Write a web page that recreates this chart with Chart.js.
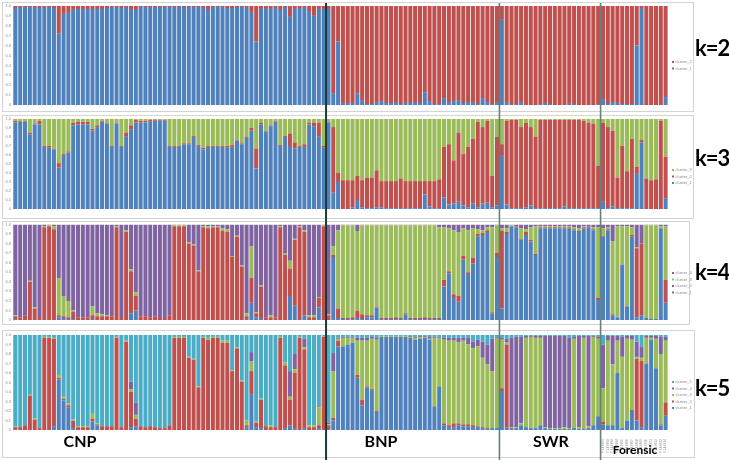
<!DOCTYPE html>
<html>
<head>
<meta charset="utf-8">
<script src="https://cdn.jsdelivr.net/npm/chart.js@4.4.1/dist/chart.umd.min.js"></script>
<style>
  html, body { margin: 0; padding: 0; background: #fff; }
  #fig { position: relative; width: 729px; height: 460px; overflow: hidden; font-family: Lato, "Liberation Sans", sans-serif; }
  .panel { position: absolute; left: 0; width: 729px; }
  .klabel { position: absolute; left: 695px; font-weight: 700; font-size: 22px; letter-spacing: -1px; line-height: 28px; color: #000; }
  .glabel { position: absolute; font-weight: 700; text-align: center; color: #000; }
</style>
</head>
<body>
<div id="fig">
  <div class="panel" style="top:0;height:113px"><canvas id="k2"></canvas></div>
  <div class="panel" style="top:113px;height:107px"><canvas id="k3"></canvas></div>
  <div class="panel" style="top:220px;height:108px"><canvas id="k4"></canvas></div>
  <div class="panel" style="top:328px;height:132px"><canvas id="k5"></canvas></div>

  <div class="klabel" style="top:34px">k=2</div>
  <div class="klabel" style="top:144px">k=3</div>
  <div class="klabel" style="top:258px">k=4</div>
  <div class="klabel" style="top:374px">k=5</div>

  <div class="glabel" style="left:40px;width:80px;top:432px;font-size:16px;line-height:18px">CNP</div>
  <div class="glabel" style="left:341px;width:80px;top:432px;font-size:16px;line-height:18px">BNP</div>
  <div class="glabel" style="left:511px;width:80px;top:432px;font-size:16px;line-height:18px">SWR</div>
  <div class="glabel" style="left:595px;width:80px;top:443px;font-size:12px;line-height:14px">Forensic</div>
</div>

<script>
// populations in plot order
const groupNames = ['CNP', 'BNP', 'SWR', 'Forensic'];
const groupSizes = [65, 36, 21, 14];

const clusterNames = ['cluster_1', 'cluster_2', 'cluster_3', 'cluster_4', 'cluster_5'];
const clusterColors = ['#4f81bd', '#c0504d', '#9bbb59', '#8064a2', '#4bacc6'];

// ---- K = 2 ----
const k2Cluster1 = [
  0.98,0.99,0.99,0.99,0.99,0.98,0.99,0.99,0.98,0.72,
  0.92,0.93,0.97,0.97,0.97,0.97,0.97,0.97,0.97,0.98,
  0.99,0.99,0.98,0.99,0.97,0.96,0.99,0.99,0.99,0.99,
  0.99,0.99,0.99,0.99,0.99,0.99,0.99,0.99,0.99,0.99,
  0.96,0.99,0.99,0.99,0.98,0.98,0.99,0.99,0.99,0.94,
  0.64,0.97,0.98,0.97,0.99,0.96,0.99,0.89,0.97,0.98,
  0.99,0.94,0.90,0.97,0.97,
  0.97,0.12,0.64,0.02,0.02,0.02,0.12,0.05,0.01,0.01,
  0.03,0.04,0.02,0.02,0.03,0.01,0.03,0.02,0.03,0.02,
  0.13,0.04,0.01,0.01,0.07,0.03,0.04,0.05,0.02,0.03,
  0.03,0.01,0.07,0.03,0.01,0.03,
  0.86,0.03,0.01,0.01,0.03,0.00,0.00,0.00,0.01,0.02,
  0.01,0.00,0.00,0.00,0.02,0.01,0.00,0.00,0.00,0.00,0.01,
  0.06,0.01,0.03,0.02,0.01,0.01,0.01,0.60,0.98,0.00,0.00,0.00,0.00,0.08
];
const k2Cluster2 = [
  0.02,0.01,0.01,0.01,0.01,0.02,0.01,0.01,0.02,0.28,
  0.08,0.07,0.03,0.03,0.03,0.03,0.03,0.03,0.03,0.02,
  0.01,0.01,0.02,0.01,0.03,0.04,0.01,0.01,0.01,0.01,
  0.01,0.01,0.01,0.01,0.01,0.01,0.01,0.01,0.01,0.01,
  0.04,0.01,0.01,0.01,0.02,0.02,0.01,0.01,0.01,0.06,
  0.36,0.03,0.02,0.03,0.01,0.04,0.01,0.11,0.03,0.02,
  0.01,0.06,0.10,0.03,0.03,
  0.03,0.88,0.36,0.98,0.98,0.98,0.88,0.95,0.99,0.99,
  0.97,0.96,0.98,0.98,0.97,0.99,0.97,0.98,0.97,0.98,
  0.87,0.96,0.99,0.99,0.93,0.97,0.96,0.95,0.98,0.97,
  0.97,0.99,0.93,0.97,0.99,0.97,
  0.14,0.97,0.99,0.99,0.97,1.00,1.00,1.00,0.99,0.98,
  0.99,1.00,1.00,1.00,0.98,0.99,1.00,1.00,1.00,1.00,0.99,
  0.94,0.99,0.97,0.98,0.99,0.99,0.99,0.40,0.02,1.00,1.00,1.00,1.00,0.92
];

// ---- K = 3 ----
const k3Cluster1 = [
  .96,.97,.97,.83,.94,.94,.69,.68,.66,.46,
  .59,.63,.93,.94,.94,.94,.87,.91,.97,.95,
  .69,.95,.69,.81,.88,.96,.96,.96,.97,.98,
  .98,.98,.69,.69,.69,.72,.72,.80,.70,.66,
  .69,.69,.69,.69,.68,.69,.76,.72,.79,.87,
  .45,.94,.86,.92,.97,.70,.80,.70,.67,.69,
  .69,.94,.92,.81,.68,
  .96,.18,.30,.00,.00,.02,.10,.02,.01,.01,
  .02,.02,.01,.01,.01,.01,.01,.01,.01,.01,
  .16,.03,.01,.01,.13,.05,.06,.08,.04,.02,
  .06,.02,.06,.07,.02,.04,
  .59,.05,.01,.01,.01,.02,.04,.01,.01,.01,
  .01,.01,.01,.03,.01,.01,.01,.01,.01,.01,.01,
  .08,.01,.03,.01,.01,.01,.01,.39,.74,.00,.00,.00,.00,.12
];
const k3Cluster2 = [
  .02,.01,.01,.02,.01,.04,.01,.02,.01,.05,
  .02,.01,.03,.03,.03,.03,.02,.02,.01,.01,
  .01,.01,.01,.04,.05,.03,.02,.02,.02,.01,
  .01,.01,.01,.01,.01,.01,.01,.01,.01,.02,
  .01,.01,.01,.01,.02,.02,.01,.01,.01,.03,
  .22,.02,.01,.01,.01,.01,.01,.14,.07,.01,
  .03,.02,.04,.15,.02,
  .01,.73,.10,.32,.32,.30,.27,.30,.34,.34,
  .41,.29,.30,.30,.30,.33,.30,.30,.30,.30,
  .15,.28,.30,.32,.56,.67,.48,.77,.57,.67,
  .72,.95,.85,.91,.35,.76,
  .13,.93,.98,.98,.90,.94,.87,.79,.98,.98,
  .98,.98,.98,.96,.98,.98,.98,.97,.95,.94,.47,
  .88,.90,.84,.34,.69,.41,.77,.08,.03,.34,.32,.33,.98,.46
];
const k3Cluster3 = [
  .02,.02,.02,.15,.05,.02,.30,.30,.33,.49,
  .39,.36,.04,.03,.03,.03,.11,.07,.02,.04,
  .30,.04,.30,.15,.07,.01,.02,.02,.01,.01,
  .01,.01,.30,.30,.30,.27,.27,.19,.29,.32,
  .30,.30,.30,.30,.30,.29,.23,.27,.20,.10,
  .33,.04,.13,.07,.02,.29,.19,.16,.26,.30,
  .28,.04,.04,.04,.30,
  .03,.09,.60,.68,.68,.68,.63,.68,.65,.65,
  .57,.69,.69,.69,.69,.66,.69,.69,.69,.69,
  .69,.69,.69,.67,.31,.28,.46,.15,.39,.31,
  .22,.03,.09,.02,.63,.20,
  .28,.02,.01,.01,.09,.04,.09,.20,.01,.01,
  .01,.01,.01,.01,.01,.01,.01,.02,.04,.05,.52,
  .04,.09,.13,.65,.30,.58,.22,.53,.23,.66,.68,.67,.02,.42
];

// ---- K = 4 ----
const k4Cluster1 = [
  .01,.00,.00,.00,.00,.00,.00,.00,.00,.03,
  .02,.01,.01,.00,.00,.00,.01,.00,.00,.00,
  .00,.00,.00,.00,.07,.10,.00,.00,.00,.00,
  .00,.00,.00,.00,.00,.00,.00,.00,.00,.00,
  .00,.00,.00,.00,.00,.00,.00,.00,.01,.18,
  .03,.02,.00,.00,.00,.00,.00,.25,.15,.00,
  .05,.00,.00,.13,.00,
  .00,.66,.02,.01,.01,.01,.02,.01,.03,.03,
  .13,.01,.01,.01,.01,.01,.06,.01,.01,.01,
  .01,.01,.01,.01,.35,.49,.23,.19,.63,.48,
  .59,.87,.89,.92,.07,.66,
  .12,.90,.98,.97,.84,.89,.82,.68,.96,.96,
  .96,.96,.96,.96,.96,.94,.92,.96,.97,.94,.21,
  .87,.94,.05,.03,.58,.14,.87,.03,.05,.02,.01,.01,.96,.18
];
const k4Cluster2 = [
  .03,.03,.05,.40,.12,.02,.97,.98,.95,.02,
  .02,.02,.08,.03,.03,.03,.04,.04,.04,.04,
  .04,.97,.02,.92,.44,.15,.04,.04,.03,.04,
  .02,.02,.05,.98,.98,.98,.80,.78,.51,.97,
  .96,.97,.97,.93,.92,.66,.87,.56,.03,.26,
  .04,.33,.03,.03,.03,.97,.68,.29,.69,.97,
  .87,.03,.03,.10,.98,
  .05,.02,.10,.01,.01,.02,.08,.05,.02,.02,
  .01,.01,.01,.01,.02,.01,.01,.01,.01,.01,
  .02,.01,.01,.01,.07,.02,.04,.06,.04,.02,
  .06,.03,.02,.02,.01,.04,
  .81,.02,.00,.01,.01,.03,.02,.01,.01,.01,
  .01,.01,.01,.01,.01,.01,.01,.01,.01,.01,.02,
  .01,.01,.01,.00,.00,.01,.02,.72,.75,.00,.00,.00,.00,.24
];
const k4Cluster3 = [
  .01,.00,.00,.01,.01,.00,.01,.01,.03,.39,
  .21,.17,.01,.00,.00,.00,.09,.03,.02,.01,
  .00,.01,.00,.02,.02,.04,.00,.00,.00,.00,
  .00,.00,.00,.01,.01,.01,.01,.01,.01,.01,
  .02,.01,.01,.03,.03,.01,.01,.01,.03,.33,
  .01,.01,.00,.02,.00,.01,.02,.08,.01,.01,
  .02,.02,.02,.01,.01,
  .01,.09,.82,.97,.97,.96,.83,.93,.94,.94,
  .85,.97,.97,.97,.96,.97,.92,.97,.97,.97,
  .96,.97,.97,.95,.55,.45,.67,.67,.29,.44,
  .31,.05,.03,.03,.89,.29,
  .03,.04,.01,.00,.11,.03,.13,.29,.01,.01,
  .01,.01,.01,.01,.01,.02,.03,.01,.00,.02,.74,
  .08,.02,.76,.95,.40,.83,.08,.01,.00,.97,.98,.98,.02,.56
];
const k4Cluster4 = [
  .95,.97,.95,.59,.87,.98,.02,.01,.02,.56,
  .75,.80,.90,.97,.97,.97,.86,.93,.94,.95,
  .96,.02,.98,.06,.47,.71,.96,.96,.97,.96,
  .98,.98,.95,.01,.01,.01,.19,.21,.48,.02,
  .02,.02,.02,.04,.05,.33,.12,.43,.93,.23,
  .92,.64,.97,.95,.97,.02,.30,.38,.15,.02,
  .06,.95,.95,.76,.01,
  .94,.23,.06,.01,.01,.01,.07,.01,.01,.01,
  .01,.01,.01,.01,.01,.01,.01,.01,.01,.01,
  .01,.01,.01,.03,.03,.04,.06,.08,.04,.06,
  .04,.05,.06,.03,.03,.01,
  .04,.04,.01,.02,.04,.05,.03,.02,.02,.02,
  .02,.02,.02,.02,.02,.03,.04,.02,.02,.03,.03,
  .04,.03,.18,.02,.02,.02,.03,.24,.20,.01,.01,.01,.02,.02
];

// ---- K = 5 ----
const k5Cluster1 = [
  .01,.00,.00,.00,.00,.00,.00,.00,.04,.53,
  .31,.24,.02,.00,.00,.00,.09,.05,.00,.00,
  .00,.00,.00,.00,.03,.04,.00,.00,.00,.00,
  .00,.00,.00,.00,.00,.00,.00,.00,.00,.00,
  .00,.00,.00,.00,.00,.00,.00,.00,.03,.37,
  .03,.02,.00,.00,.00,.00,.02,.05,.02,.00,
  .02,.00,.00,.02,.00,
  .01,.10,.88,.88,.90,.92,.55,.26,.45,.42,
  .19,.98,.98,.98,.98,.98,.98,.97,.95,.96,
  .97,.95,.25,.46,.05,.03,.03,.05,.04,.04,
  .03,.03,.02,.01,.02,.02,
  .41,.03,.01,.02,.05,.03,.02,.02,.05,.02,
  .01,.01,.01,.01,.01,.02,.01,.01,.02,.05,.14,
  .06,.05,.05,.60,.02,.10,.20,.10,.03,.70,.95,.65,.05,.15
];
const k5Cluster2 = [
  .02,.03,.05,.36,.11,.02,.97,.97,.92,.02,
  .02,.02,.08,.03,.03,.03,.03,.01,.04,.04,
  .04,.97,.03,.93,.37,.08,.04,.03,.04,.03,
  .02,.02,.05,.97,.97,.97,.76,.74,.45,.97,
  .95,.97,.97,.92,.92,.62,.86,.51,.02,.25,
  .05,.30,.04,.03,.03,.97,.66,.27,.58,.97,
  .83,.03,.03,.03,.98,
  .04,.03,.06,.00,.00,.00,.03,.06,.01,.01,
  .01,.00,.00,.00,.00,.00,.00,.00,.00,.00,
  .00,.00,.00,.00,.02,.02,.04,.02,.02,.02,
  .02,.01,.01,.01,.00,.00,
  .03,.87,.01,.00,.00,.00,.00,.00,.00,.00,
  .00,.00,.00,.00,.00,.00,.00,.00,.00,.00,.01,
  .03,.00,.00,.00,.00,.00,.01,.65,.70,.00,.00,.00,.01,.14
];
const k5Cluster3 = [
  .01,.00,.00,.01,.01,.00,.01,.01,.01,.03,
  .02,.02,.01,.01,.01,.01,.05,.01,.00,.00,
  .00,.01,.00,.01,.03,.04,.00,.00,.00,.00,
  .00,.00,.00,.01,.01,.01,.01,.01,.01,.01,
  .02,.01,.01,.02,.02,.01,.01,.01,.05,.10,
  .01,.01,.00,.02,.00,.01,.03,.03,.04,.01,
  .02,.02,.02,.19,.01,
  .01,.49,.02,.09,.07,.05,.36,.62,.48,.53,
  .75,.01,.01,.01,.01,.01,.01,.01,.02,.02,
  .01,.01,.72,.51,.88,.89,.87,.85,.88,.84,
  .81,.84,.73,.67,.60,.95,
  .51,.02,.01,.01,.02,.94,.96,.95,.92,.01,
  .01,.01,.01,.02,.01,.94,.02,.96,.02,.93,.81,
  .35,.89,.64,.34,.75,.86,.74,.02,.03,.27,.02,.31,.74,.65
];
const k5Cluster4 = [
  .00,.00,.00,.00,.00,.00,.00,.00,.00,.00,
  .00,.00,.00,.00,.00,.00,.00,.00,.00,.00,
  .00,.00,.00,.00,.08,.13,.00,.00,.00,.00,
  .00,.00,.00,.00,.00,.00,.00,.00,.00,.00,
  .00,.00,.00,.00,.00,.00,.00,.00,.00,.10,
  .00,.00,.00,.00,.00,.00,.00,.27,.16,.00,
  .09,.00,.00,.01,.00,
  .02,.19,.01,.01,.01,.01,.03,.03,.03,.02,
  .02,.00,.00,.00,.00,.00,.00,.01,.01,.01,
  .01,.02,.01,.01,.02,.03,.03,.05,.03,.07,
  .07,.07,.17,.21,.34,.01,
  .02,.04,.94,.95,.91,.02,.01,.02,.02,.96,
  .97,.97,.97,.96,.95,.02,.96,.02,.95,.01,.02,
  .46,.05,.30,.05,.21,.03,.04,.16,.12,.02,.02,.03,.18,.04
];
const k5Cluster5 = [
  .96,.97,.95,.63,.88,.98,.02,.02,.03,.42,
  .65,.72,.89,.96,.96,.96,.83,.93,.96,.96,
  .96,.02,.97,.06,.49,.71,.96,.97,.96,.97,
  .98,.98,.95,.02,.02,.02,.23,.25,.54,.02,
  .03,.02,.02,.06,.06,.37,.13,.48,.90,.18,
  .91,.67,.96,.95,.97,.02,.29,.38,.20,.02,
  .04,.95,.95,.75,.01,
  .92,.19,.03,.02,.02,.02,.03,.03,.03,.02,
  .03,.01,.01,.01,.01,.01,.01,.01,.02,.01,
  .01,.02,.02,.02,.03,.03,.03,.03,.03,.03,
  .07,.05,.07,.10,.04,.02,
  .03,.04,.03,.02,.02,.01,.01,.01,.01,.01,
  .01,.01,.01,.01,.03,.02,.01,.01,.01,.01,.02,
  .10,.01,.01,.01,.02,.01,.01,.07,.12,.01,.01,.01,.02,.02
];

// sample ids (only the forensic ones are printed under the last panel)
const sampleIds = [];
groupNames.forEach((g, gi) => {
  for (let n = 1; n <= groupSizes[gi]; n++) {
    sampleIds.push(g === 'Forensic' ? 'F-14-' + String(n).padStart(4, '0') : g + '_' + n);
  }
});

// population boundaries (index of the first sample of each following group)
const breaks = [];
groupSizes.slice(0, -1).reduce((acc, n) => { breaks.push(acc + n); return acc + n; }, 0);
const forensicStart = breaks[breaks.length - 1];

// frame, separator lines and the small legend of each excel-like panel
const structurePanel = {
  id: 'structurePanel',
  beforeDraw(chart, args, opts) {
    const ctx = chart.ctx;
    const f = opts.frame;
    ctx.save();
    ctx.strokeStyle = '#d3d3d3';
    ctx.lineWidth = 1;
    ctx.strokeRect(f[0], f[1], f[2], f[3]);
    ctx.restore();
  },
  afterDraw(chart, args, opts) {
    const ctx = chart.ctx;
    const x = chart.scales.x;
    ctx.save();
    breaks.forEach((b, i) => {
      const px = (x.getPixelForValue(b - 1) + x.getPixelForValue(b)) / 2;
      ctx.strokeStyle = i === 0 ? '#183a3c' : '#66807f';
      ctx.lineWidth = i === 0 ? 2 : 1.6;
      ctx.beginPath();
      ctx.moveTo(px, opts.lineTop);
      ctx.lineTo(px, chart.height);
      ctx.stroke();
    });

    const items = chart.data.datasets.map(d => ({ label: d.label, color: d.backgroundColor })).reverse();
    ctx.font = '4px "Liberation Sans"';
    ctx.textBaseline = 'middle';
    items.forEach((it, i) => {
      const y = opts.legendTop + i * 6.5;
      ctx.fillStyle = it.color;
      ctx.fillRect(672, y - 1, 2, 2);
      ctx.fillStyle = '#8a8a8a';
      ctx.fillText(it.label, 675.5, y);
    });
    ctx.restore();
  }
};

function drawPanel(id, series, panel, showIds) {
  new Chart(document.getElementById(id), {
    type: 'bar',
    data: {
      labels: sampleIds,
      datasets: series.map((values, i) => ({
        label: clusterNames[i],
        data: values,
        backgroundColor: clusterColors[i],
        barPercentage: 0.84,
        categoryPercentage: 1
      }))
    },
    options: {
      responsive: true,
      maintainAspectRatio: false,
      animation: false,
      layout: { padding: { top: panel.top, bottom: panel.bottom, left: 0, right: 61 } },
      plugins: {
        legend: { display: false },
        tooltip: { enabled: false },
        structurePanel: panel
      },
      scales: {
        x: {
          stacked: true,
          display: showIds,
          grid: { display: false },
          border: { display: false },
          ticks: {
            autoSkip: false,
            minRotation: 90,
            maxRotation: 90,
            padding: 1,
            font: { size: 3, family: 'Liberation Sans' },
            color: '#8a8a8a',
            callback: (v, i) => i >= forensicStart ? sampleIds[i] : ''
          },
          afterFit: s => { s.height = showIds ? 30 : 0; }
        },
        y: {
          stacked: true,
          min: 0,
          max: 1,
          grid: { display: false, drawTicks: false },
          border: { display: true, color: '#d9d9d9' },
          ticks: { stepSize: 0.1, padding: 2, font: { size: 4, family: 'Liberation Sans' }, color: '#8a8a8a' },
          afterFit: s => { s.width = 13; }
        }
      }
    },
    plugins: [structurePanel]
  });
}

drawPanel('k2', [k2Cluster1, k2Cluster2],
  { top: 6, bottom: 8, frame: [2.5, 2.5, 691, 109], lineTop: 3, legendTop: 62 }, false);
drawPanel('k3', [k3Cluster1, k3Cluster2, k3Cluster3],
  { top: 6, bottom: 11, frame: [2.5, 2.5, 691, 103], lineTop: 0, legendTop: 57 }, false);
drawPanel('k4', [k4Cluster1, k4Cluster2, k4Cluster3, k4Cluster4],
  { top: 4, bottom: 8, frame: [2.5, 1.5, 687, 103], lineTop: 0, legendTop: 53 }, false);
drawPanel('k5', [k5Cluster1, k5Cluster2, k5Cluster3, k5Cluster4, k5Cluster5],
  { top: 7, bottom: 0, frame: [2.5, 2.5, 692, 127], lineTop: 0, legendTop: 54 }, true);
</script>
</body>
</html>
